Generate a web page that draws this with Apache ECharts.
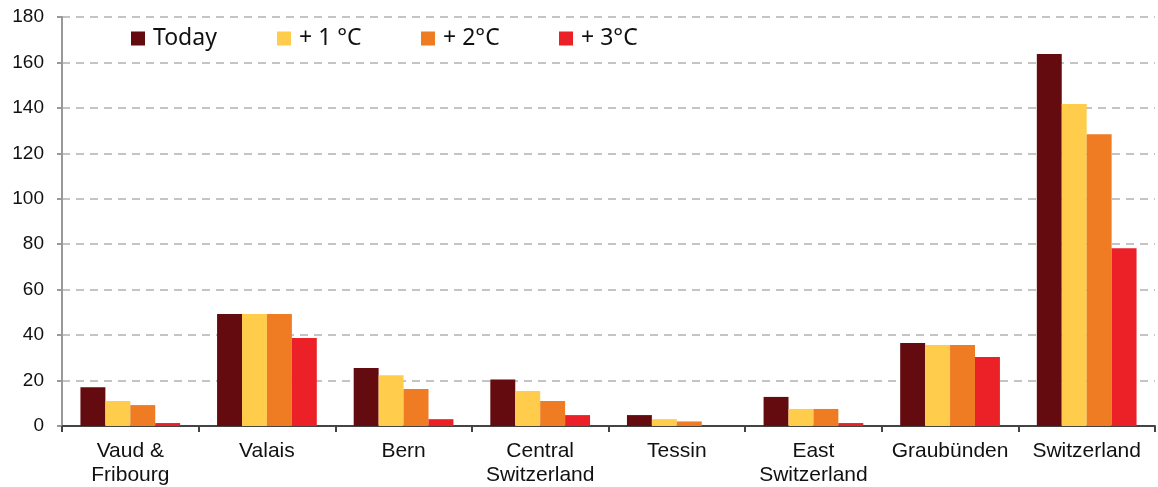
<!DOCTYPE html>
<html>
<head>
<meta charset="utf-8">
<script src="https://cdn.jsdelivr.net/npm/echarts@6/dist/echarts.min.js"></script>
<style>html,body{margin:0;padding:0;background:#fff}#c{width:1158px;height:487px}</style>
</head>
<body>
<div id="c"></div>
<script>
const categories = ["Vaud &\nFribourg", "Valais", "Bern", "Central\nSwitzerland", "Tessin", "East\nSwitzerland", "Graubünden", "Switzerland"];
const seriesNames = ["Today", "+ 1 °C", "+ 2°C", "+ 3°C"];
const today = [17, 49.3, 25.5, 20.5, 4.8, 12.8, 36.5, 163.7];
const plus1 = [11, 49.3, 22.3, 15.4, 3, 7.5, 35.6, 141.7];
const plus2 = [9.2, 49.3, 16.3, 11, 2, 7.5, 35.6, 128.4];
const plus3 = [1.3, 38.7, 3, 4.8, 0, 1.3, 30.4, 78.2];
const colors = ["#630B0F", "#FFCC4C", "#EF7B22", "#EC2027"];
const legendLeft = [126, 272, 416, 554];

const chart = echarts.init(document.getElementById('c'));
const values = [today, plus1, plus2, plus3];
chart.setOption({
  animation: false,
  textStyle: { fontFamily: "Liberation Sans, Arial, sans-serif" },
  legend: seriesNames.map((n, i) => ({
    data: [n], left: legendLeft[i], top: 22, itemWidth: 14, itemHeight: 14,
    icon: 'rect',
    textStyle: { fontSize: 23, color: '#111', fontFamily: "Noto Sans, sans-serif", padding: [0, 0, 0, 3] }
  })),
  grid: { left: 62, right: 3, top: 17, bottom: 61 },
  xAxis: {
    type: 'category', data: categories,
    axisLine: { lineStyle: { color: '#444', width: 2 } },
    axisTick: { show: true, length: 6, lineStyle: { color: '#444', width: 2 } },
    axisLabel: { fontSize: 21, color: '#111', lineHeight: 24, margin: 13, interval: 0 }
  },
  yAxis: {
    type: 'value', min: 0, max: 180, interval: 20,
    axisLine: { show: true, lineStyle: { color: '#999', width: 2 } },
    axisTick: { show: true, length: 5, lineStyle: { color: '#999', width: 2 } },
    axisLabel: { fontSize: 19, color: '#111', margin: 18, padding: [4, 0, 0, 0] },
    splitLine: { lineStyle: { color: '#c4c4c4', type: [8, 6], width: 2 } }
  },
  series: seriesNames.map((n, i) => ({
    name: n, type: 'bar', data: values[i],
    barGap: '0%', barCategoryGap: '27%',
    itemStyle: { color: colors[i] }
  }))
});
</script>
</body>
</html>
